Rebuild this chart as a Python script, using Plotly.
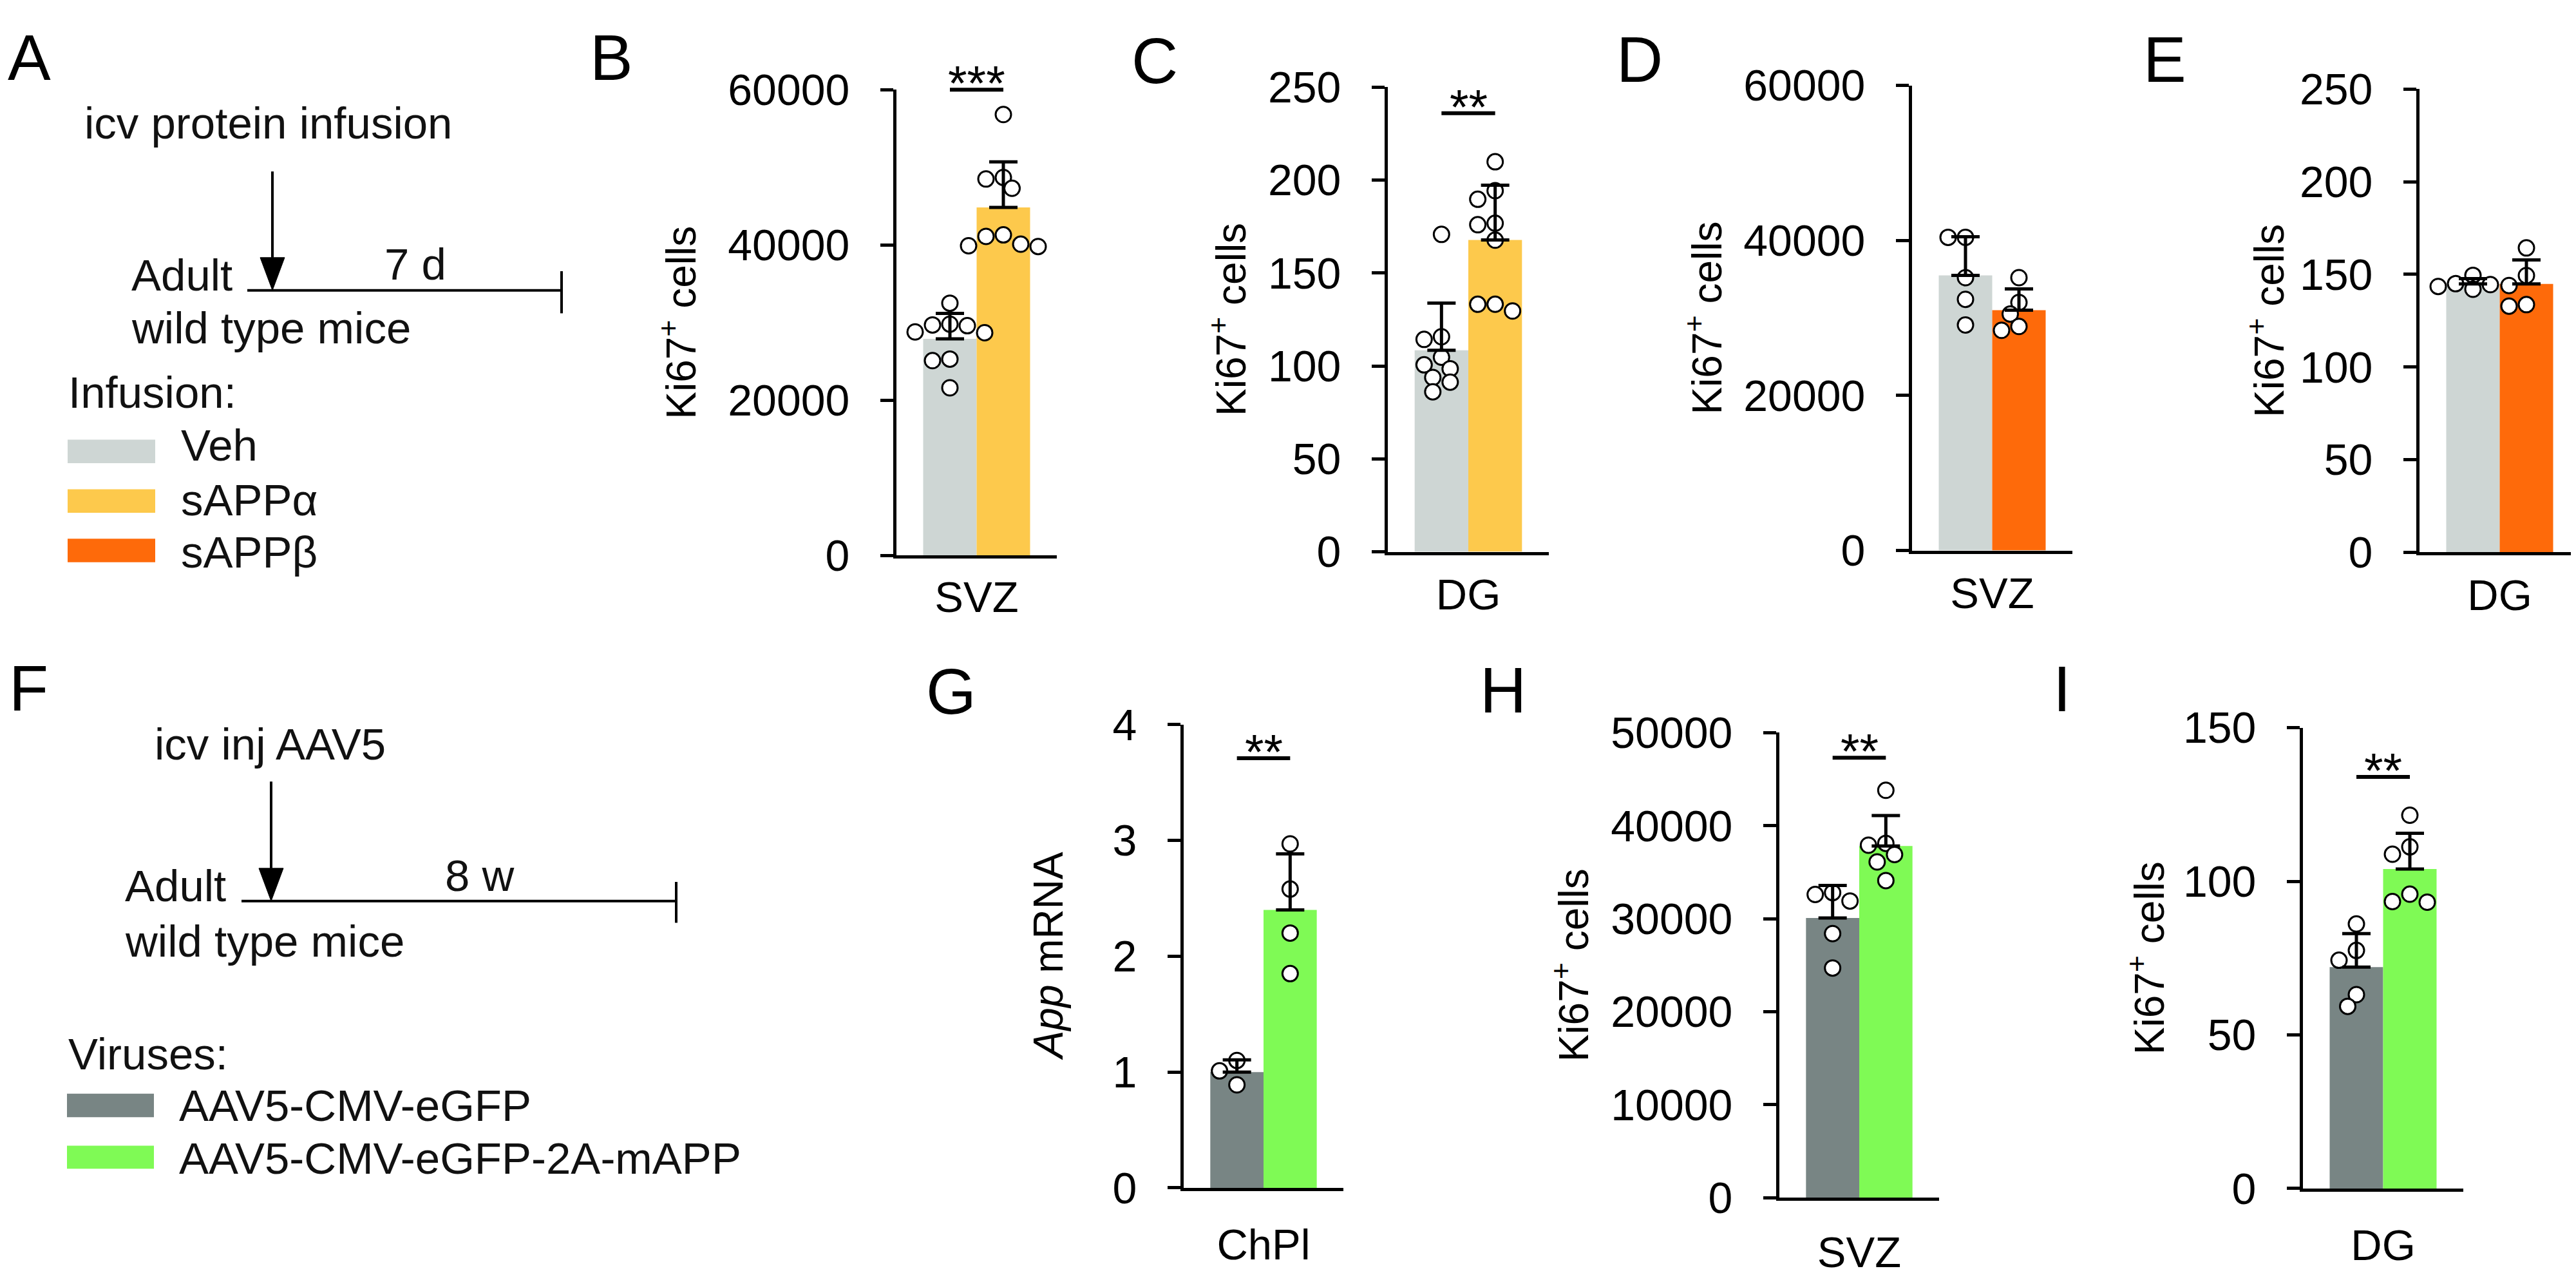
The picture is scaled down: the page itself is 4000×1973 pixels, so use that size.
import plotly.graph_objects as go

W, H = 4000, 1973
FONT = 'Liberation Sans'

# bar colours
VEH = '#CED6D4'
SAPPA = '#FDC94C'
SAPPB = '#FE6A0A'
GFP = '#788584'
MAPP = '#7FFA55'

# individual animals
b_veh = [32500, 29600, 29700, 29800, 28700, 28800, 25300, 25100, 21600]
b_sappa = [56800, 48700, 48500, 47300, 41100, 41300, 39900, 40100, 39800]
c_veh = [170.8, 114.3, 115.7, 104.7, 100.6, 98.5, 93.8, 91.3, 86.1]
c_sappa = [209.9, 194.3, 189.7, 176.0, 176.8, 167.7, 129.6, 133.2, 133.2]
d_veh = [40400, 40400, 35200, 32400, 29100]
d_sappb = [35200, 32000, 30500, 28900, 28400]
e_veh = [143.5, 149.5, 144.5, 145.0, 142.0]
e_sappb = [164.3, 149.4, 144.0, 133.7, 132.9]
g_gfp = [1.10, 0.89, 1.01]
g_mapp = [2.97, 2.58, 2.20, 1.85]
h_gfp = [32600, 32800, 31900, 28400, 24700]
h_mapp = [43800, 37900, 38100, 36900, 36100, 34100]
i_gfp = [86.1, 77.5, 74.3, 63.1, 59.3]
i_mapp = [121.5, 111.2, 108.8, 95.8, 93.2, 93.4]

KI67 = 'Ki67<sup>+</sup> cells'

# panel definitions (pixel boxes for layout)
panels = [
    dict(a=b_veh, b=b_sappa, ca=VEH, cb=SAPPA, cat='SVZ', ymax=60000, dtick=20000,
         stars='***', sig=60000, title=KI67, xd=(1384, 1633), yd=(97, 849), tx=1045, std=2),
    dict(a=c_veh, b=c_sappa, ca=VEH, cb=SAPPA, cat='DG', ymax=250, dtick=50,
         stars='**', sig=236, title=KI67, xd=(2147, 2397), yd=(93, 843), tx=1899, std=4),
    dict(a=d_veh, b=d_sappb, ca=VEH, cb=SAPPB, cat='SVZ', ymax=60000, dtick=20000,
         stars=None, sig=None, title=KI67, xd=(2961, 3210), yd=(90, 841), tx=2638, std=4),
    dict(a=e_veh, b=e_sappb, ca=VEH, cb=SAPPB, cat='DG', ymax=250, dtick=50,
         stars=None, sig=None, title=KI67, xd=(3749, 3998), yd=(96, 844), tx=3511, std=4),
    dict(a=g_gfp, b=g_mapp, ca=GFP, cb=MAPP, cat='ChPl', ymax=4, dtick=1,
         stars='**', sig=3.71, title='<i>App</i> mRNA', xd=(1830, 2078), yd=(1122, 1870), tx=1620, std=26),
    dict(a=h_gfp, b=h_mapp, ca=GFP, cb=MAPP, cat='SVZ', ymax=50000, dtick=10000,
         stars='**', sig=47300, title=KI67, xd=(2755, 3003), yd=(1135, 1886), tx=2431, std=22),
    dict(a=i_gfp, b=i_mapp, ca=GFP, cb=MAPP, cat='DG', ymax=150, dtick=50,
         stars='**', sig=134, title=KI67, xd=(3568, 3817), yd=(1127, 1871), tx=3325, std=26),
]

XMIN, XMAX = -1, 2
MS = 24      # marker size
DIAM = 27    # outer diameter in px


def px(x):
    return x / W


def py(y):
    return 1 - y / H


def mean_sd(v):
    m = sum(v) / len(v)
    sd = (sum((t - m) ** 2 for t in v) / (len(v) - 1)) ** 0.5
    return m, sd


def swarm(vals, ymax, hpx, xunit):
    """simple beeswarm offsets (data units) so circles don't pile up"""
    ys = [v / ymax * hpx for v in vals]
    step = 0.5 * DIAM
    cands = [0.0]
    for n in range(1, 8):
        cands += [-n * step, n * step]
    placed, offs = [], [0.0] * len(vals)
    for i in sorted(range(len(vals)), key=lambda k: -vals[k]):
        for c in cands:
            if all((c - qx) ** 2 + (ys[i] - qy) ** 2 >= (0.8 * DIAM) ** 2 for qx, qy in placed):
                break
        placed.append((c, ys[i]))
        offs[i] = c / xunit
    return offs


fig = go.Figure()
shapes, annos = [], []

for n, p in enumerate(panels, start=1):
    xa = 'x' if n == 1 else f'x{n}'
    ya = 'y' if n == 1 else f'y{n}'
    wpx = p['xd'][1] - p['xd'][0]
    hpx = p['yd'][1] - p['yd'][0]
    xunit = wpx / (XMAX - XMIN)

    for xc, vals, col in [(0, p['a'], p['ca']), (1, p['b'], p['cb'])]:
        m, sd = mean_sd(vals)
        fig.add_trace(go.Bar(x=[xc], y=[m], width=1, marker=dict(color=col, line_width=0),
                             xaxis=xa, yaxis=ya, showlegend=False, hoverinfo='skip'))
    for xc, vals in [(0, p['a']), (1, p['b'])]:
        offs = swarm(vals, p['ymax'], hpx, xunit)
        fig.add_trace(go.Scatter(
            x=[xc + o for o in offs], y=vals, mode='markers', cliponaxis=False,
            marker=dict(size=MS, color='white', line=dict(color='black', width=3)),
            xaxis=xa, yaxis=ya, showlegend=False))
    for xc, vals in [(0, p['a']), (1, p['b'])]:
        m, sd = mean_sd(vals)
        fig.add_trace(go.Scatter(
            x=[xc], y=[m], mode='markers', marker=dict(size=1, opacity=0), cliponaxis=False,
            error_y=dict(type='data', array=[sd], arrayminus=[0], symmetric=False,
                         color='black', thickness=5, width=22),
            xaxis=xa, yaxis=ya, showlegend=False, hoverinfo='skip'))

    axn = '' if n == 1 else str(n)
    fig.layout['xaxis' + axn] = dict(
        domain=[px(p['xd'][0]), px(p['xd'][1])], anchor=ya, range=[XMIN, XMAX],
        showline=True, linewidth=5, linecolor='black', ticks='', showgrid=False,
        zeroline=False, tickvals=[0.5], ticktext=[p['cat']], ticklabelstandoff=p['std'],
        tickfont=dict(family=FONT, size=67, color='black'), fixedrange=True)
    fig.layout['yaxis' + axn] = dict(
        domain=[py(p['yd'][1]), py(p['yd'][0])], anchor=xa, range=[0, p['ymax']],
        showline=True, linewidth=5, linecolor='black', ticks='outside', ticklen=20,
        tickwidth=5, tickcolor='black', dtick=p['dtick'], tick0=0, showgrid=False,
        zeroline=False, ticklabelstandoff=34, tickformat='d',
        tickfont=dict(family=FONT, size=68, color='black'), fixedrange=True)

    # y title
    annos.append(dict(x=px(p['tx']), y=py((p['yd'][0] + p['yd'][1]) / 2), xref='paper', yref='paper',
                      text=p['title'], textangle=-90, showarrow=False, xanchor='center',
                      yanchor='middle', font=dict(family=FONT, size=64, color='black')))

    # significance bar between bar centres
    if p['sig'] is not None:
        def to_px_x(v):
            return p['xd'][0] + (v - XMIN) / (XMAX - XMIN) * wpx
        ys = p['yd'][1] - p['sig'] / p['ymax'] * hpx
        shapes.append(dict(type='line', xref='paper', yref='paper',
                           x0=px(to_px_x(0)), x1=px(to_px_x(1)), y0=py(ys), y1=py(ys),
                           line=dict(color='black', width=6)))
        annos.append(dict(x=px(to_px_x(0.5)), y=py(ys - 31 + 20), xref='paper', yref='paper',
                          text=p['stars'], showarrow=False, xanchor='center', yanchor='middle',
                          font=dict(family=FONT, size=76, color='black')))

# panel letters
letters = [('A', 2, 41), ('B', 906, 41), ('C', 1747, 46), ('D', 2500, 44), ('E', 3318, 44),
           ('F', 4, 1059), ('G', 1428, 1064), ('H', 2288, 1062), ('I', 3178, 1060)]
for t, x, y in letters:
    annos.append(dict(x=px(x), y=py(y + 4), xref='paper', yref='paper', text=t, showarrow=False,
                      xanchor='left', yanchor='middle', font=dict(family=FONT, size=100, color='black')))

# timeline diagrams and legends (A and F)
texts = [
    ('icv protein infusion', 121, 147), ('Adult', 194, 393), ('7 d', 587, 375),
    ('wild type mice', 194, 478), ('Infusion:', 96, 582),
    ('Veh', 271, 667), ('sAPPα', 271, 756), ('sAPPβ', 271, 840),
    ('icv inj AAV5', 230, 1150), ('Adult', 184, 1379), ('8 w', 681, 1362),
    ('wild type mice', 184, 1468), ('Viruses:', 96, 1650),
    ('AAV5-CMV-eGFP', 268, 1733), ('AAV5-CMV-eGFP-2A-mAPP', 268, 1819),
]
for t, x, y in texts:
    annos.append(dict(x=px(x), y=py(y + 4), xref='paper', yref='paper', text=t, showarrow=False,
                      xanchor='left', yanchor='middle', font=dict(family=FONT, size=69, color='#111111')))

patches = [(97, 233, 662, 700, VEH), (97, 233, 742, 780, SAPPA), (97, 233, 822, 860, SAPPB),
           (96, 231, 1718, 1756, GFP), (96, 231, 1802, 1839, MAPP)]
for x0, x1, y0, y1, c in patches:
    shapes.append(dict(type='rect', xref='paper', yref='paper', x0=px(x0), x1=px(x1),
                       y0=py(y1), y1=py(y0), fillcolor=c, line=dict(width=0)))

timelines = [
    # arrow x, arrow top, head top, line y, line x0, line x1, end tick y0, y1
    (415, 229, 368, 421, 376, 864, 390, 458),
    (413, 1214, 1354, 1407, 367, 1042, 1376, 1442),
]
for ax, atop, htop, ly, lx0, lx1, ty0, ty1 in timelines:
    shapes.append(dict(type='line', xref='paper', yref='paper', x0=px(ax), x1=px(ax),
                       y0=py(atop), y1=py(htop), line=dict(color='black', width=4)))
    shapes.append(dict(type='path', xref='paper', yref='paper',
                       path=f'M {px(ax - 19)} {py(htop)} L {px(ax + 19)} {py(htop)} L {px(ax)} {py(ly)} Z',
                       fillcolor='black', line=dict(color='black', width=1)))
    shapes.append(dict(type='line', xref='paper', yref='paper', x0=px(lx0), x1=px(lx1),
                       y0=py(ly), y1=py(ly), line=dict(color='black', width=4)))
    shapes.append(dict(type='line', xref='paper', yref='paper', x0=px(lx1), x1=px(lx1),
                       y0=py(ty0), y1=py(ty1), line=dict(color='black', width=4)))

fig.update_layout(
    width=W, height=H, margin=dict(l=0, r=0, t=0, b=0),
    paper_bgcolor='white', plot_bgcolor='rgba(0,0,0,0)',
    barmode='overlay', shapes=shapes, annotations=annos,
    font=dict(family=FONT, color='black'), showlegend=False,
)

fig.write_html('out.html')
